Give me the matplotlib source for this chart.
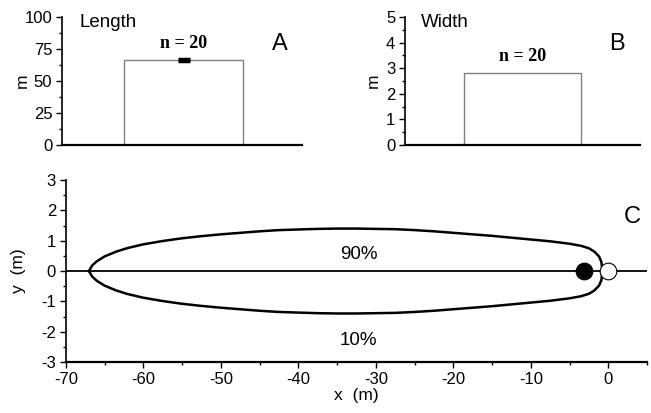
import matplotlib.pyplot as plt
import numpy as np
from matplotlib.ticker import MultipleLocator

plt.rcParams['font.family'] = ['Liberation Sans', 'DejaVu Sans']
plt.rcParams['axes.unicode_minus'] = False

length_mean = 66.5
length_err = 0.6
width_mean = 2.82
n_label = "n = 20"

# upper half of the 90% contour (x, y) in metres, lower half is mirrored
loop_x = [-67.0, -66.6, -66.0, -65.0, -63.5, -62.0, -60.0, -57.5, -55.0, -52.5, -50.0,
          -47.5, -45.0, -42.5, -40.0, -37.5, -35.0, -32.5, -30.0, -27.5, -25.0, -22.5,
          -20.0, -17.5, -15.0, -12.5, -10.0, -7.5, -5.0, -3.5, -2.5, -1.8, -1.2, -0.9, -0.75]
loop_y = [0.0, 0.18, 0.32, 0.48, 0.64, 0.76, 0.88, 0.99, 1.08, 1.15, 1.21,
          1.26, 1.31, 1.35, 1.37, 1.39, 1.40, 1.40, 1.39, 1.38, 1.35, 1.31,
          1.26, 1.21, 1.16, 1.10, 1.04, 0.98, 0.90, 0.83, 0.75, 0.64, 0.48, 0.30, 0.0]

fish_x = [-3.2, 0.0]
fish_colors = ['black', 'white']

fig = plt.figure(figsize=(6.51, 4.13), dpi=100)
axA = fig.add_axes([0.0952, 0.649, 0.369, 0.31])
axB = fig.add_axes([0.622, 0.649, 0.361, 0.31])
axC = fig.add_axes([0.1010, 0.1235, 0.893, 0.4405])

for ax in (axA, axB, axC):
    ax.spines['top'].set_visible(False)
    ax.spines['right'].set_visible(False)
    ax.spines['left'].set_linewidth(1.2)
    ax.spines['bottom'].set_linewidth(1.6)
    ax.tick_params(which='both', direction='out', labelsize=12, width=1, pad=2.5)
    ax.tick_params(which='major', length=4.5)
    ax.tick_params(which='minor', length=2.5)

# panel A
axA.bar([0.506], [length_mean], width=0.496, facecolor='white', edgecolor='#808080', linewidth=1)
axA.errorbar([0.506], [length_mean], yerr=[length_err], color='black', capsize=4,
             capthick=2.5, elinewidth=2.5)
axA.set_xlim(0, 1)
axA.set_ylim(0, 100)
axA.set_xticks([])
axA.yaxis.set_major_locator(MultipleLocator(25))
axA.yaxis.set_minor_locator(MultipleLocator(12.5))
axA.set_ylabel('m', fontsize=12.5)
axA.yaxis.set_label_coords(-0.132, 0.5)
axA.text(0.506, length_mean + 6, n_label, ha='center', va='bottom', fontsize=13,
         fontweight='bold', family=['Liberation Serif'])
axA.text(0.072, 96, 'Length', ha='left', va='center', fontsize=13.5)
axA.text(0.875, 79, 'A', ha='left', va='center', fontsize=17)

# panel B
axB.bar([0.5], [width_mean], width=0.498, facecolor='white', edgecolor='#808080', linewidth=1)
axB.set_xlim(0, 1)
axB.set_ylim(0, 5)
axB.set_xticks([])
axB.yaxis.set_major_locator(MultipleLocator(1))
axB.yaxis.set_minor_locator(MultipleLocator(0.5))
axB.set_ylabel('m', fontsize=12.5)
axB.yaxis.set_label_coords(-0.104, 0.5)
axB.text(0.5, width_mean + 0.3, n_label, ha='center', va='bottom', fontsize=13,
         fontweight='bold', family=['Liberation Serif'])
axB.text(0.07, 4.8, 'Width', ha='left', va='center', fontsize=13.5)
axB.text(0.87, 3.95, 'B', ha='left', va='center', fontsize=17)

# panel C
lx = np.array(loop_x)
ly = np.array(loop_y)
px = np.concatenate([lx, lx[::-1]])
py = np.concatenate([ly, -ly[::-1]])
axC.plot(px, py, color='black', linewidth=1.8, solid_joinstyle='round')
axC.axhline(0, color='black', linewidth=1.3)
for fx, fc in zip(fish_x, fish_colors):
    axC.plot([fx], [0], marker='o', markersize=12, markerfacecolor=fc,
             markeredgecolor='black', markeredgewidth=0.8, zorder=5)
axC.set_xlim(-70, 5)
axC.set_ylim(-3, 3)
axC.xaxis.set_major_locator(MultipleLocator(10))
axC.xaxis.set_minor_locator(MultipleLocator(5))
axC.yaxis.set_major_locator(MultipleLocator(1))
axC.yaxis.set_minor_locator(MultipleLocator(0.5))
axC.set_xlabel('x  (m)', fontsize=12.5, labelpad=1)
axC.set_ylabel('y  (m)', fontsize=12.5)
axC.yaxis.set_label_coords(-0.068, 0.5)
axC.text(-32.2, 0.55, '90%', ha='center', va='center', fontsize=13.5)
axC.text(-32.2, -2.28, '10%', ha='center', va='center', fontsize=13.5)
axC.text(3.1, 1.78, 'C', ha='center', va='center', fontsize=17)

fig.savefig('out.png', dpi=100)
